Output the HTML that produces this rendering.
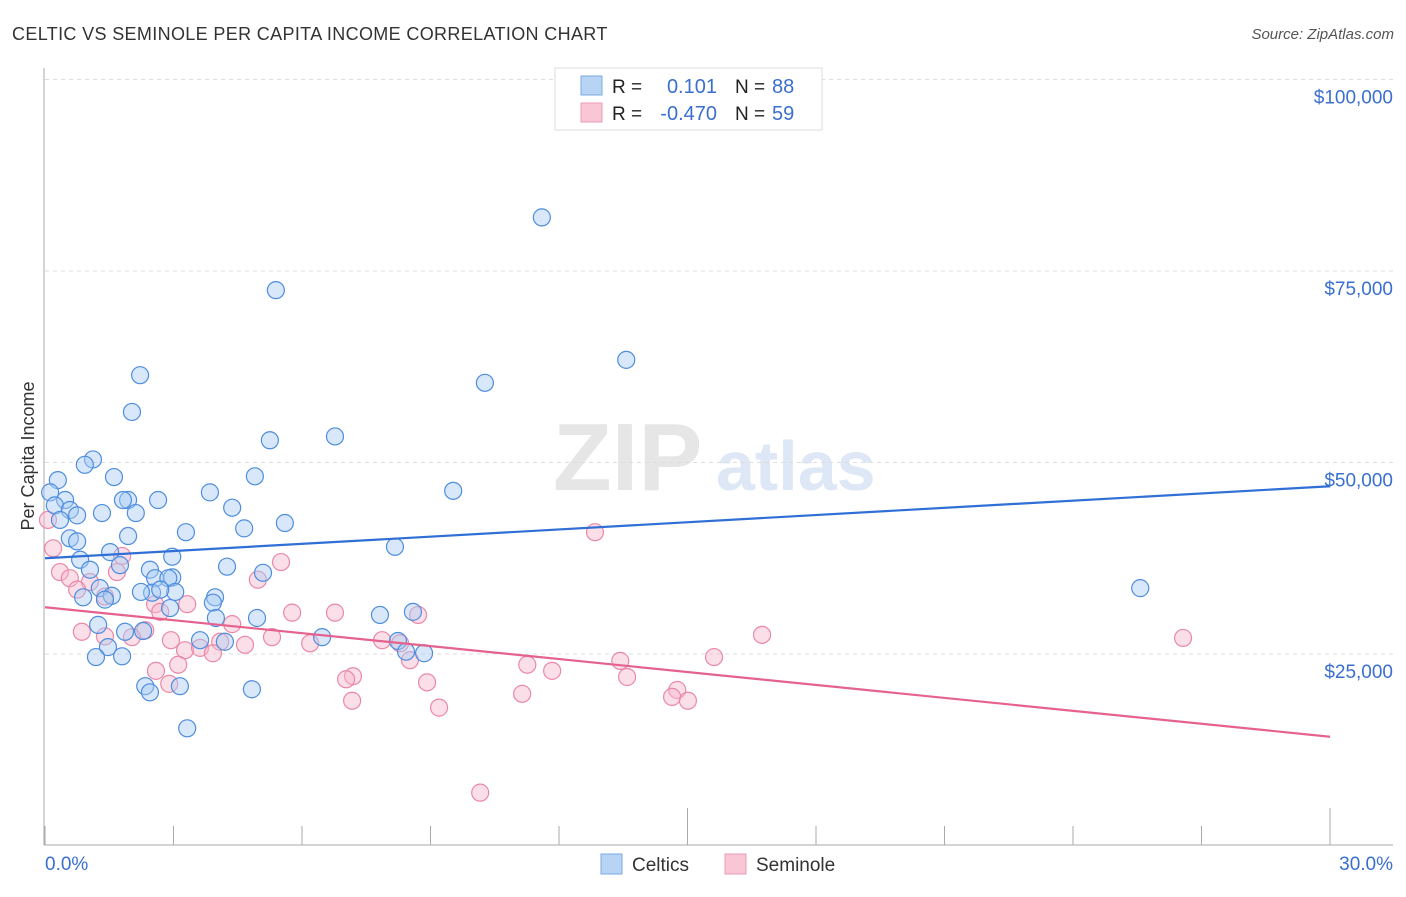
<!DOCTYPE html>
<html><head><meta charset="utf-8"><style>
body{margin:0;background:#fff;font-family:"Liberation Sans",sans-serif;}
svg text{font-family:"Liberation Sans",sans-serif;}
</style></head><body>
<svg id="chart" width="1406" height="892" viewBox="0 0 1406 892" xmlns="http://www.w3.org/2000/svg">
<text x="12" y="40" font-size="18" letter-spacing="0.35" fill="#333">CELTIC VS SEMINOLE PER CAPITA INCOME CORRELATION CHART</text>
<text x="1394" y="39" font-size="15" fill="#555" font-style="italic" text-anchor="end">Source: ZipAtlas.com</text>
<g><text x="553" y="490" font-size="96" fill="#e6e6e6" font-family="Liberation Serif" font-weight="bold">ZIP</text><text x="716" y="490" font-size="70" fill="#dde7f5" font-weight="bold">atlas</text></g>
<g id="grid"></g>
<g id="axes"></g>
<text transform="translate(34,456) rotate(-90)" font-size="18" fill="#333" text-anchor="middle">Per Capita Income</text>
<g id="pts"></g>
<g id="lines"></g>
<g>
<rect x="555" y="68" width="267" height="62" fill="#fff" stroke="#ddd"/>
<rect x="581" y="76" width="21" height="19" fill="#b8d4f5" stroke="#7aa8e6"/>
<rect x="581" y="103" width="21" height="19" fill="#f9c6d6" stroke="#ee9bb5"/>
<text x="612" y="93" font-size="19" fill="#222">R = </text><text x="717" y="93" font-size="20" fill="#3a6fd0" text-anchor="end">0.101</text>
<text x="735" y="93" font-size="19" fill="#222">N = </text><text x="772" y="93" font-size="20" fill="#3a6fd0">88</text>
<text x="612" y="120" font-size="19" fill="#222">R = </text><text x="717" y="120" font-size="20" fill="#3a6fd0" text-anchor="end">-0.470</text>
<text x="735" y="120" font-size="19" fill="#222">N = </text><text x="772" y="120" font-size="20" fill="#3a6fd0">59</text>
</g>
<g>
<rect x="601" y="854" width="21" height="20" fill="#b8d4f5" stroke="#7aa8e6"/>
<text x="632" y="871" font-size="19" fill="#333">Celtics</text>
<rect x="725" y="854" width="21" height="20" fill="#f9c6d6" stroke="#ee9bb5"/>
<text x="756" y="871" font-size="19" fill="#333">Seminole</text>
</g>
</svg>
<script>
const yTicks=[25000,50000,75000,100000];
const yTickLabels=["$25,000","$50,000","$75,000","$100,000"];
const xTicks=[0,3,6,9,12,15,18,21,24,27,30];
const xEndLabels=["0.0%","30.0%"];
const celticsX=[11.6,5.39,13.57,10.27,2.22,2.03,6.77,5.25,1.12,0.93,1.61,4.90,0.30,9.53,3.85,0.12,0.47,1.94,2.64,1.82,4.37,0.23,0.58,1.33,2.12,0.75,5.60,0.35,4.65,3.29,1.94,0.58,0.75,8.17,1.52,0.82,2.97,1.75,1.05,4.25,5.09,2.45,2.57,2.97,2.88,1.28,0.89,3.04,2.50,2.24,2.69,1.56,3.97,1.40,3.92,2.92,7.82,8.59,3.99,4.95,1.24,1.87,2.29,6.47,3.62,4.20,8.24,8.43,8.85,1.47,1.19,1.80,2.34,2.45,3.15,4.83,3.32,25.57];
const celticsY=[82000,72500,63400,60400,61400,56600,53400,52900,50400,49700,48100,48200,47700,46300,46100,46100,45100,45100,45100,45100,44100,44400,43800,43400,43400,43100,42100,42500,41400,40900,40400,40100,39700,39000,38300,37300,37700,36600,36000,36400,35600,36000,34900,35000,34900,33600,32400,33100,33000,33100,33400,32600,32400,32100,31700,31000,30100,30500,29700,29700,28800,27900,28000,27200,26800,26600,26700,25300,25100,25900,24600,24700,20800,20000,20800,20400,15300,33600];
const seminoleX=[12.84,0.19,1.80,5.51,1.68,0.35,0.58,1.05,4.97,0.75,1.40,2.57,3.32,2.69,5.77,6.77,8.71,4.37,0.86,2.34,1.40,2.03,16.74,26.57,5.30,7.87,2.94,4.09,4.67,6.19,8.29,3.27,3.62,3.92,8.52,15.62,13.43,11.26,3.11,2.59,11.84,7.19,7.03,8.92,13.59,2.90,11.14,14.76,14.64,15.01,7.17,9.20,10.16,0.07];
const seminoleY=[40900,38800,37800,37000,35700,35700,34900,34400,34700,33400,32500,31500,31500,30500,30400,30400,30100,28900,27900,28100,27300,27200,27500,27100,27200,26800,26800,26600,26200,26400,26400,25500,25800,25100,24200,24600,24100,23600,23600,22800,22800,22100,21700,21300,22000,21100,19800,20300,19400,18900,18900,18000,6900,42500];
const trendStart=[37500,31100];
const trendEnd=[46900,14200];
const NS="http://www.w3.org/2000/svg";
const X=v=>45+v/30*1285;
const Y=v=>654-(v-25000)/25000*191.5;
function mk(t,a,p){const e=document.createElementNS(NS,t);for(const k in a)e.setAttribute(k,a[k]);p.appendChild(e);return e;}
const grid=document.getElementById('grid'),axes=document.getElementById('axes'),pts=document.getElementById('pts'),lines=document.getElementById('lines');
yTicks.forEach((v,i)=>{
 const l=mk('line',{x1:45,x2:1393,y1:Y(v),y2:Y(v),stroke:'#ddd','stroke-dasharray':'4,4'},grid);
 
 
 const t=mk('text',{x:1393,y:Y(v)+24,'font-size':19,fill:'#3a6fd0','text-anchor':'end'},axes);
 t.textContent=yTickLabels[i];
 
 
});
const ya=mk('line',{x1:44,x2:44,y1:68,y2:845,stroke:'#aaa'},axes);


const xa=mk('line',{x1:44,x2:1393,y1:845,y2:845,stroke:'#aaa'},axes);


xTicks.forEach(v=>{
 const tl=mk('line',{x1:X(v),x2:X(v),y1:(v%15===0&&v>0)?808:826,y2:845,stroke:'#aaa'},axes);
 
 
});
[[0,'start'],[30,'end']].forEach((d,i)=>{
 const t=mk('text',{x:i?1393:45,y:870,'font-size':19,fill:'#3a6fd0','text-anchor':d[1]},axes);
 t.textContent=xEndLabels[i];
 
 
});
function dots(xs,ys,fill,stroke,name){xs.forEach((x,i)=>{
 const c=mk('circle',{cx:X(x),cy:Y(ys[i]),r:8.5,fill:fill,'fill-opacity':0.45,stroke:stroke,'stroke-width':1.2},pts);
 
 
});}
dots(seminoleX,seminoleY,'#f7b9cc','#ea88a8','seminole-point');
dots(celticsX,celticsY,'#a9cbf3','#4f8ddf','celtics-point');
const cols=['#2f6fd6','#e5628f'],nm=['celtics-trendline','seminole-trendline'];
[0,1].forEach(i=>{
 const l=mk('line',{x1:X(0),y1:Y(trendStart[i]),x2:X(30),y2:Y(trendEnd[i]),stroke:cols[i],'stroke-width':2.2},lines);
 
 
});
</script>
</body></html>
